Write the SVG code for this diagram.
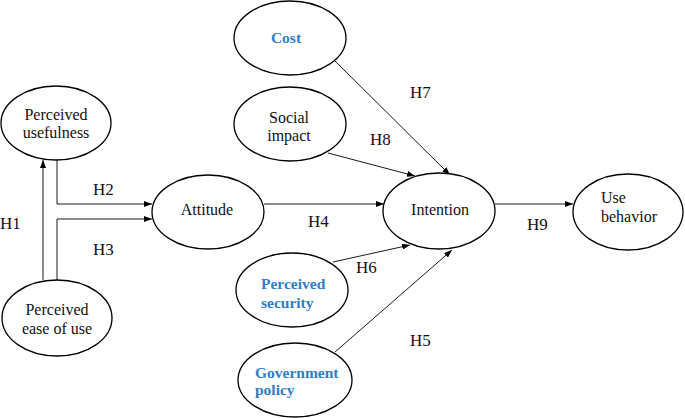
<svg xmlns="http://www.w3.org/2000/svg" width="685" height="418" viewBox="0 0 685 418">
<defs>
<style>
text{font-family:'Liberation Serif','Times New Roman',Times,serif}
.n{fill:#fff;stroke:#000;stroke-width:1.3}
.t{font-size:16px;fill:#111}
.b{font-size:15.5px;font-weight:bold;fill:#2f7dc6}
.h{font-size:17px;fill:#111}
.c{fill:none;stroke:#000;stroke-width:0.9}
</style>
<marker id="ar" markerWidth="8" markerHeight="6" refX="8" refY="3" orient="auto" markerUnits="userSpaceOnUse">
<path d="M0,0 L8,3 L0,6 Z" fill="#000"/>
</marker>
</defs>
<rect width="685" height="418" fill="#fff"/>
<g id="connectors">
<path class="c" d="M43,280 V160" marker-end="url(#ar)"/>
<path class="c" d="M57,160 V204 H152" marker-end="url(#ar)"/>
<path class="c" d="M57,280 V219 H152" marker-end="url(#ar)"/>
<path class="c" d="M264,204 H384" marker-end="url(#ar)"/>
<path class="c" d="M495,204 H573" marker-end="url(#ar)"/>
<path class="c" d="M335,61 L450,175" marker-end="url(#ar)"/>
<path class="c" d="M328,153 L415,176" marker-end="url(#ar)"/>
<path class="c" d="M333,262 L410,245" marker-end="url(#ar)"/>
<path class="c" d="M335,352 L452,250" marker-end="url(#ar)"/>
</g>
<g id="labels">
<text class="h" x="0" y="229">H1</text>
<text class="h" x="93" y="195">H2</text>
<text class="h" x="93" y="255">H3</text>
<text class="h" x="308" y="227">H4</text>
<text class="h" x="410" y="346">H5</text>
<text class="h" x="356" y="273">H6</text>
<text class="h" x="410" y="98">H7</text>
<text class="h" x="370" y="145">H8</text>
<text class="h" x="527" y="230">H9</text>
</g>
<g id="perceived-usefulness">
<ellipse class="n" cx="56" cy="123" rx="55" ry="37"/>
<text class="t" x="56" y="120" text-anchor="middle">Perceived</text>
<text class="t" x="56" y="138" text-anchor="middle">usefulness</text>
</g>
<g id="perceived-ease">
<ellipse class="n" cx="57" cy="318" rx="55" ry="38"/>
<text class="t" x="57" y="315" text-anchor="middle">Perceived</text>
<text class="t" x="57" y="334" text-anchor="middle">ease of use</text>
</g>
<g id="attitude">
<ellipse class="n" cx="208" cy="212" rx="56" ry="37"/>
<text class="t" x="207" y="215" text-anchor="middle">Attitude</text>
</g>
<g id="cost">
<ellipse class="n" cx="290" cy="38" rx="56" ry="37"/>
<text class="b" x="286" y="43" text-anchor="middle">Cost</text>
</g>
<g id="social-impact">
<ellipse class="n" cx="290" cy="124" rx="56" ry="37"/>
<text class="t" x="289" y="123" text-anchor="middle">Social</text>
<text class="t" x="289" y="141" text-anchor="middle">impact</text>
</g>
<g id="intention">
<ellipse class="n" cx="439" cy="211" rx="56" ry="38"/>
<text class="t" x="440" y="215" text-anchor="middle">Intention</text>
</g>
<g id="use-behavior">
<ellipse class="n" cx="628" cy="212" rx="55" ry="38"/>
<text class="t" x="601" y="203">Use</text>
<text class="t" x="601" y="222">behavior</text>
</g>
<g id="perceived-security">
<ellipse class="n" cx="292" cy="290" rx="56" ry="37"/>
<text class="b" x="261" y="289">Perceived</text>
<text class="b" x="261" y="308">security</text>
</g>
<g id="government-policy">
<ellipse class="n" cx="295" cy="380" rx="57" ry="37"/>
<text class="b" x="255" y="378">Government</text>
<text class="b" x="255" y="395">policy</text>
</g>
</svg>
